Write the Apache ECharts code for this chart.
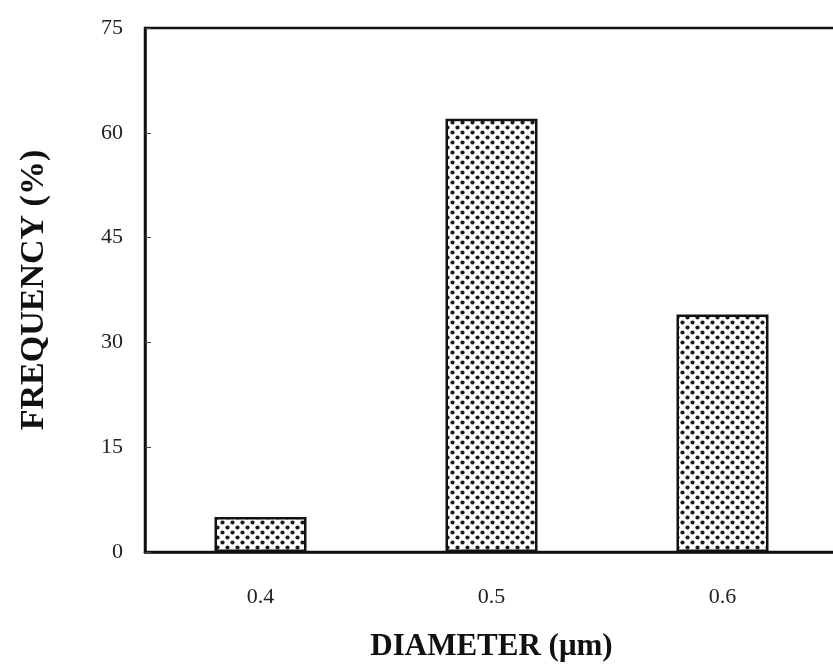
<!DOCTYPE html>
<html><head><meta charset="utf-8">
<script src="https://cdn.jsdelivr.net/npm/echarts@6/dist/echarts.min.js"></script>
<style>html,body{margin:0;padding:0;background:#fff}#c{width:833px;height:667px}</style>
</head><body><div id="c"></div>
<script>
var categories = ['0.4', '0.5', '0.6'];
var frequency = [5, 62, 34];
var yTicks = [0, 15, 30, 45, 60, 75];

function makePattern() {
  var c = document.createElement('canvas');
  c.width = 10; c.height = 10;
  var g = c.getContext('2d');
  g.fillStyle = '#fff'; g.fillRect(0, 0, 10, 10);
  g.fillStyle = '#1a1a1a';
  [[2.5, 2.5], [7.5, 7.5]].forEach(function (p) {
    g.beginPath(); g.arc(p[0], p[1], 2.1, 0, Math.PI * 2); g.fill();
  });
  return c;
}

var chart = echarts.init(document.getElementById('c'));
var font = '"Liberation Serif", "Times New Roman", serif';
chart.setOption({
  animation: false,
  backgroundColor: '#fff',
  grid: { left: 145, top: 28, width: 693, bottom: 115, show: true, borderColor: '#111', borderWidth: 2.5, backgroundColor: 'transparent', outerBoundsMode: 'none', containLabel: false },
  xAxis: {
    type: 'category', data: categories,
    name: 'DIAMETER (\u03bcm)', nameLocation: 'middle', nameGap: 79,
    nameTextStyle: { fontFamily: font, fontSize: 31, fontWeight: 'bold', color: '#111' },
    axisLine: { lineStyle: { color: '#111', width: 2.5 } },
    axisTick: { show: false },
    axisLabel: { margin: 34, fontFamily: font, fontSize: 22, color: '#222' },
    splitLine: { show: false }
  },
  yAxis: {
    type: 'value', min: yTicks[0], max: yTicks[yTicks.length - 1], interval: 15,
    name: 'FREQUENCY (%)', nameLocation: 'middle', nameGap: 94,
    nameTextStyle: { fontFamily: font, fontSize: 34, fontWeight: 'bold', color: '#111' },
    axisLine: { show: true, lineStyle: { color: '#111', width: 2.5 } },
    axisTick: { show: true, inside: true, length: 6, lineStyle: { color: '#444' } },
    axisLabel: { margin: 22, fontFamily: font, fontSize: 22, color: '#222' },
    splitLine: { show: false }
  },
  series: [{
    type: 'bar', data: frequency, barWidth: 92,
    itemStyle: { color: { image: makePattern(), repeat: 'repeat' }, borderColor: '#111', borderWidth: 2.5 }
  }]
});
</script></body></html>
